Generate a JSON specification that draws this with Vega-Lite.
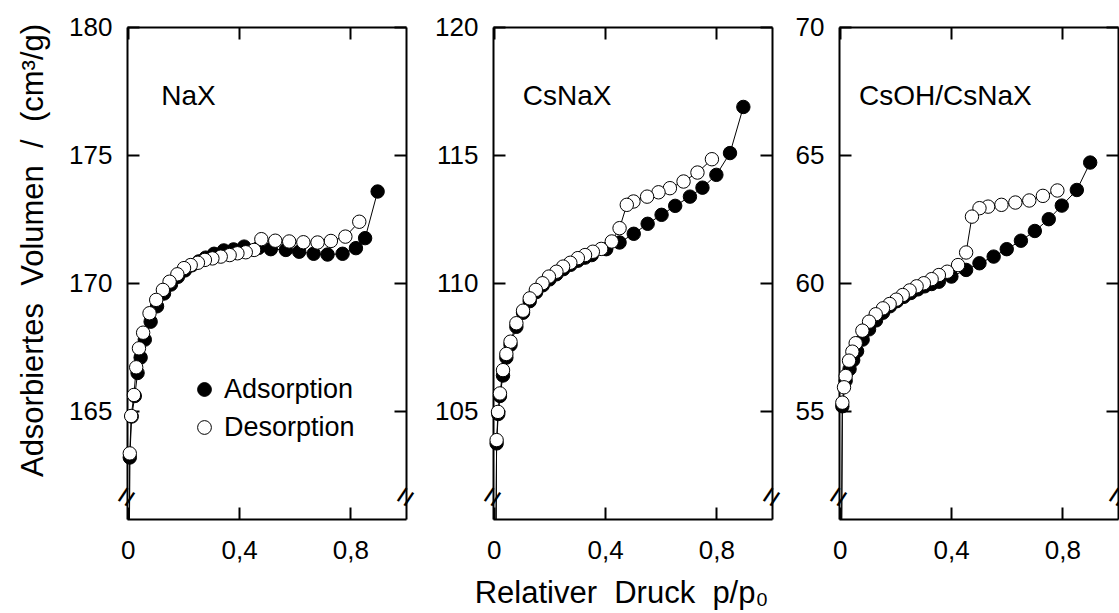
{
  "$schema": "https://vega.github.io/schema/vega-lite/v6.json",
  "padding": {"left": 17, "top": 14, "right": 0, "bottom": 2},
  "background": "white",
  "config": {
    "font": "Liberation Sans",
    "view": {"stroke": null},
    "axis": {
      "domainColor": "black", "domainWidth": 2, "tickColor": "black", "tickWidth": 2, "tickSize": -12,
      "grid": false, "labelFontSize": 26, "labelColor": "black", "labelFont": "Liberation Sans",
      "titleFontSize": 31, "titleFontWeight": "normal", "titleColor": "black", "titleFont": "Liberation Sans",
      "labelFlush": false, "labelOverlap": false
    }
  },
  "datasets": {
    "iso": [
      {"panel": "NaX", "series": "Adsorption", "x": 0.001, "y": 150},
      {"panel": "NaX", "series": "Adsorption", "x": 0.007, "y": 163.2},
      {"panel": "NaX", "series": "Adsorption", "x": 0.014, "y": 164.8},
      {"panel": "NaX", "series": "Adsorption", "x": 0.025, "y": 165.6},
      {"panel": "NaX", "series": "Adsorption", "x": 0.035, "y": 166.5},
      {"panel": "NaX", "series": "Adsorption", "x": 0.046, "y": 167.1},
      {"panel": "NaX", "series": "Adsorption", "x": 0.061, "y": 167.8},
      {"panel": "NaX", "series": "Adsorption", "x": 0.082, "y": 168.5},
      {"panel": "NaX", "series": "Adsorption", "x": 0.105, "y": 169.1},
      {"panel": "NaX", "series": "Adsorption", "x": 0.13, "y": 169.6},
      {"panel": "NaX", "series": "Adsorption", "x": 0.155, "y": 169.95},
      {"panel": "NaX", "series": "Adsorption", "x": 0.18, "y": 170.25},
      {"panel": "NaX", "series": "Adsorption", "x": 0.205, "y": 170.5},
      {"panel": "NaX", "series": "Adsorption", "x": 0.23, "y": 170.7},
      {"panel": "NaX", "series": "Adsorption", "x": 0.255, "y": 170.85},
      {"panel": "NaX", "series": "Adsorption", "x": 0.28, "y": 171.0},
      {"panel": "NaX", "series": "Adsorption", "x": 0.31, "y": 171.15},
      {"panel": "NaX", "series": "Adsorption", "x": 0.345, "y": 171.28},
      {"panel": "NaX", "series": "Adsorption", "x": 0.38, "y": 171.32},
      {"panel": "NaX", "series": "Adsorption", "x": 0.418, "y": 171.43},
      {"panel": "NaX", "series": "Adsorption", "x": 0.47, "y": 171.38},
      {"panel": "NaX", "series": "Adsorption", "x": 0.514, "y": 171.33},
      {"panel": "NaX", "series": "Adsorption", "x": 0.568, "y": 171.3},
      {"panel": "NaX", "series": "Adsorption", "x": 0.616, "y": 171.23},
      {"panel": "NaX", "series": "Adsorption", "x": 0.668, "y": 171.15},
      {"panel": "NaX", "series": "Adsorption", "x": 0.718, "y": 171.12},
      {"panel": "NaX", "series": "Adsorption", "x": 0.772, "y": 171.15},
      {"panel": "NaX", "series": "Adsorption", "x": 0.82, "y": 171.37},
      {"panel": "NaX", "series": "Adsorption", "x": 0.853, "y": 171.76},
      {"panel": "NaX", "series": "Adsorption", "x": 0.898, "y": 173.58},
      {"panel": "NaX", "series": "Desorption", "x": 0.832, "y": 172.4},
      {"panel": "NaX", "series": "Desorption", "x": 0.782, "y": 171.82},
      {"panel": "NaX", "series": "Desorption", "x": 0.73, "y": 171.65},
      {"panel": "NaX", "series": "Desorption", "x": 0.682, "y": 171.59},
      {"panel": "NaX", "series": "Desorption", "x": 0.631, "y": 171.6},
      {"panel": "NaX", "series": "Desorption", "x": 0.58, "y": 171.63},
      {"panel": "NaX", "series": "Desorption", "x": 0.53, "y": 171.66},
      {"panel": "NaX", "series": "Desorption", "x": 0.48, "y": 171.72},
      {"panel": "NaX", "series": "Desorption", "x": 0.454, "y": 171.3},
      {"panel": "NaX", "series": "Desorption", "x": 0.424, "y": 171.21},
      {"panel": "NaX", "series": "Desorption", "x": 0.394, "y": 171.17},
      {"panel": "NaX", "series": "Desorption", "x": 0.366, "y": 171.1},
      {"panel": "NaX", "series": "Desorption", "x": 0.334, "y": 171.04},
      {"panel": "NaX", "series": "Desorption", "x": 0.304, "y": 170.97},
      {"panel": "NaX", "series": "Desorption", "x": 0.277, "y": 170.91},
      {"panel": "NaX", "series": "Desorption", "x": 0.252, "y": 170.8},
      {"panel": "NaX", "series": "Desorption", "x": 0.226, "y": 170.71},
      {"panel": "NaX", "series": "Desorption", "x": 0.202, "y": 170.59},
      {"panel": "NaX", "series": "Desorption", "x": 0.178, "y": 170.35},
      {"panel": "NaX", "series": "Desorption", "x": 0.15, "y": 170.06},
      {"panel": "NaX", "series": "Desorption", "x": 0.126, "y": 169.74},
      {"panel": "NaX", "series": "Desorption", "x": 0.102, "y": 169.35},
      {"panel": "NaX", "series": "Desorption", "x": 0.078, "y": 168.83},
      {"panel": "NaX", "series": "Desorption", "x": 0.055, "y": 168.07},
      {"panel": "NaX", "series": "Desorption", "x": 0.04, "y": 167.46},
      {"panel": "NaX", "series": "Desorption", "x": 0.03, "y": 166.72},
      {"panel": "NaX", "series": "Desorption", "x": 0.022, "y": 165.64},
      {"panel": "NaX", "series": "Desorption", "x": 0.012, "y": 164.82},
      {"panel": "NaX", "series": "Desorption", "x": 0.007, "y": 163.36},
      {"panel": "NaX", "series": "Desorption", "x": 0.0015, "y": 150},

      {"panel": "CsNaX", "series": "Adsorption", "x": 0.001, "y": 90},
      {"panel": "CsNaX", "series": "Adsorption", "x": 0.01, "y": 103.75},
      {"panel": "CsNaX", "series": "Adsorption", "x": 0.016, "y": 104.9},
      {"panel": "CsNaX", "series": "Adsorption", "x": 0.022, "y": 105.6},
      {"panel": "CsNaX", "series": "Adsorption", "x": 0.033, "y": 106.4},
      {"panel": "CsNaX", "series": "Adsorption", "x": 0.045, "y": 107.1},
      {"panel": "CsNaX", "series": "Adsorption", "x": 0.06, "y": 107.6},
      {"panel": "CsNaX", "series": "Adsorption", "x": 0.081, "y": 108.3},
      {"panel": "CsNaX", "series": "Adsorption", "x": 0.105, "y": 108.85},
      {"panel": "CsNaX", "series": "Adsorption", "x": 0.129, "y": 109.3},
      {"panel": "CsNaX", "series": "Adsorption", "x": 0.152, "y": 109.65},
      {"panel": "CsNaX", "series": "Adsorption", "x": 0.176, "y": 109.92},
      {"panel": "CsNaX", "series": "Adsorption", "x": 0.2, "y": 110.15},
      {"panel": "CsNaX", "series": "Adsorption", "x": 0.225, "y": 110.35},
      {"panel": "CsNaX", "series": "Adsorption", "x": 0.25, "y": 110.55},
      {"panel": "CsNaX", "series": "Adsorption", "x": 0.276, "y": 110.72},
      {"panel": "CsNaX", "series": "Adsorption", "x": 0.302, "y": 110.88},
      {"panel": "CsNaX", "series": "Adsorption", "x": 0.328, "y": 111.0},
      {"panel": "CsNaX", "series": "Adsorption", "x": 0.352, "y": 111.1},
      {"panel": "CsNaX", "series": "Adsorption", "x": 0.404, "y": 111.33},
      {"panel": "CsNaX", "series": "Adsorption", "x": 0.452, "y": 111.59},
      {"panel": "CsNaX", "series": "Adsorption", "x": 0.503, "y": 111.93},
      {"panel": "CsNaX", "series": "Adsorption", "x": 0.553, "y": 112.32},
      {"panel": "CsNaX", "series": "Adsorption", "x": 0.603, "y": 112.67},
      {"panel": "CsNaX", "series": "Adsorption", "x": 0.652, "y": 113.02},
      {"panel": "CsNaX", "series": "Adsorption", "x": 0.705, "y": 113.38},
      {"panel": "CsNaX", "series": "Adsorption", "x": 0.75, "y": 113.73},
      {"panel": "CsNaX", "series": "Adsorption", "x": 0.8, "y": 114.23},
      {"panel": "CsNaX", "series": "Adsorption", "x": 0.849, "y": 115.08},
      {"panel": "CsNaX", "series": "Adsorption", "x": 0.897, "y": 116.88},
      {"panel": "CsNaX", "series": "Desorption", "x": 0.784, "y": 114.84},
      {"panel": "CsNaX", "series": "Desorption", "x": 0.732, "y": 114.32},
      {"panel": "CsNaX", "series": "Desorption", "x": 0.682, "y": 113.97},
      {"panel": "CsNaX", "series": "Desorption", "x": 0.633, "y": 113.71},
      {"panel": "CsNaX", "series": "Desorption", "x": 0.592, "y": 113.55},
      {"panel": "CsNaX", "series": "Desorption", "x": 0.551, "y": 113.38},
      {"panel": "CsNaX", "series": "Desorption", "x": 0.502, "y": 113.19},
      {"panel": "CsNaX", "series": "Desorption", "x": 0.478, "y": 113.06},
      {"panel": "CsNaX", "series": "Desorption", "x": 0.452, "y": 112.15},
      {"panel": "CsNaX", "series": "Desorption", "x": 0.424, "y": 111.63},
      {"panel": "CsNaX", "series": "Desorption", "x": 0.386, "y": 111.34},
      {"panel": "CsNaX", "series": "Desorption", "x": 0.356, "y": 111.23},
      {"panel": "CsNaX", "series": "Desorption", "x": 0.328, "y": 111.1},
      {"panel": "CsNaX", "series": "Desorption", "x": 0.302, "y": 110.98},
      {"panel": "CsNaX", "series": "Desorption", "x": 0.275, "y": 110.8},
      {"panel": "CsNaX", "series": "Desorption", "x": 0.249, "y": 110.65},
      {"panel": "CsNaX", "series": "Desorption", "x": 0.225, "y": 110.45},
      {"panel": "CsNaX", "series": "Desorption", "x": 0.198, "y": 110.26},
      {"panel": "CsNaX", "series": "Desorption", "x": 0.175, "y": 110.0},
      {"panel": "CsNaX", "series": "Desorption", "x": 0.151, "y": 109.74},
      {"panel": "CsNaX", "series": "Desorption", "x": 0.129, "y": 109.41},
      {"panel": "CsNaX", "series": "Desorption", "x": 0.105, "y": 108.93},
      {"panel": "CsNaX", "series": "Desorption", "x": 0.081, "y": 108.44},
      {"panel": "CsNaX", "series": "Desorption", "x": 0.06, "y": 107.72},
      {"panel": "CsNaX", "series": "Desorption", "x": 0.045, "y": 107.24},
      {"panel": "CsNaX", "series": "Desorption", "x": 0.033, "y": 106.61},
      {"panel": "CsNaX", "series": "Desorption", "x": 0.022, "y": 105.7},
      {"panel": "CsNaX", "series": "Desorption", "x": 0.015, "y": 104.98},
      {"panel": "CsNaX", "series": "Desorption", "x": 0.01, "y": 103.88},
      {"panel": "CsNaX", "series": "Desorption", "x": 0.0015, "y": 90},

      {"panel": "CsOH", "series": "Adsorption", "x": 0.001, "y": 40},
      {"panel": "CsOH", "series": "Adsorption", "x": 0.009, "y": 55.2},
      {"panel": "CsOH", "series": "Adsorption", "x": 0.021, "y": 56.2},
      {"panel": "CsOH", "series": "Adsorption", "x": 0.035, "y": 56.65},
      {"panel": "CsOH", "series": "Adsorption", "x": 0.048, "y": 57.0},
      {"panel": "CsOH", "series": "Adsorption", "x": 0.062, "y": 57.35},
      {"panel": "CsOH", "series": "Adsorption", "x": 0.082, "y": 57.8},
      {"panel": "CsOH", "series": "Adsorption", "x": 0.105, "y": 58.2},
      {"panel": "CsOH", "series": "Adsorption", "x": 0.13, "y": 58.55},
      {"panel": "CsOH", "series": "Adsorption", "x": 0.155, "y": 58.85},
      {"panel": "CsOH", "series": "Adsorption", "x": 0.18, "y": 59.1},
      {"panel": "CsOH", "series": "Adsorption", "x": 0.205, "y": 59.3},
      {"panel": "CsOH", "series": "Adsorption", "x": 0.23, "y": 59.47},
      {"panel": "CsOH", "series": "Adsorption", "x": 0.255, "y": 59.62},
      {"panel": "CsOH", "series": "Adsorption", "x": 0.28, "y": 59.76},
      {"panel": "CsOH", "series": "Adsorption", "x": 0.305, "y": 59.88},
      {"panel": "CsOH", "series": "Adsorption", "x": 0.33, "y": 59.97},
      {"panel": "CsOH", "series": "Adsorption", "x": 0.356, "y": 60.06},
      {"panel": "CsOH", "series": "Adsorption", "x": 0.401, "y": 60.26},
      {"panel": "CsOH", "series": "Adsorption", "x": 0.454, "y": 60.52},
      {"panel": "CsOH", "series": "Adsorption", "x": 0.502, "y": 60.78},
      {"panel": "CsOH", "series": "Adsorption", "x": 0.553, "y": 61.04},
      {"panel": "CsOH", "series": "Adsorption", "x": 0.6, "y": 61.33},
      {"panel": "CsOH", "series": "Adsorption", "x": 0.651, "y": 61.66},
      {"panel": "CsOH", "series": "Adsorption", "x": 0.701, "y": 62.04},
      {"panel": "CsOH", "series": "Adsorption", "x": 0.751, "y": 62.5},
      {"panel": "CsOH", "series": "Adsorption", "x": 0.798, "y": 63.03},
      {"panel": "CsOH", "series": "Adsorption", "x": 0.852, "y": 63.64},
      {"panel": "CsOH", "series": "Adsorption", "x": 0.9, "y": 64.71},
      {"panel": "CsOH", "series": "Desorption", "x": 0.782, "y": 63.62},
      {"panel": "CsOH", "series": "Desorption", "x": 0.73, "y": 63.41},
      {"panel": "CsOH", "series": "Desorption", "x": 0.681, "y": 63.23},
      {"panel": "CsOH", "series": "Desorption", "x": 0.631, "y": 63.15},
      {"panel": "CsOH", "series": "Desorption", "x": 0.581, "y": 63.06},
      {"panel": "CsOH", "series": "Desorption", "x": 0.533, "y": 62.99},
      {"panel": "CsOH", "series": "Desorption", "x": 0.502, "y": 62.93},
      {"panel": "CsOH", "series": "Desorption", "x": 0.475, "y": 62.6},
      {"panel": "CsOH", "series": "Desorption", "x": 0.454, "y": 61.2},
      {"panel": "CsOH", "series": "Desorption", "x": 0.425, "y": 60.71},
      {"panel": "CsOH", "series": "Desorption", "x": 0.386, "y": 60.45},
      {"panel": "CsOH", "series": "Desorption", "x": 0.356, "y": 60.32},
      {"panel": "CsOH", "series": "Desorption", "x": 0.33, "y": 60.16},
      {"panel": "CsOH", "series": "Desorption", "x": 0.302, "y": 60.0},
      {"panel": "CsOH", "series": "Desorption", "x": 0.276, "y": 59.88},
      {"panel": "CsOH", "series": "Desorption", "x": 0.251, "y": 59.72},
      {"panel": "CsOH", "series": "Desorption", "x": 0.226, "y": 59.54},
      {"panel": "CsOH", "series": "Desorption", "x": 0.203, "y": 59.36},
      {"panel": "CsOH", "series": "Desorption", "x": 0.179, "y": 59.19},
      {"panel": "CsOH", "series": "Desorption", "x": 0.155, "y": 59.02},
      {"panel": "CsOH", "series": "Desorption", "x": 0.129, "y": 58.79},
      {"panel": "CsOH", "series": "Desorption", "x": 0.105, "y": 58.5},
      {"panel": "CsOH", "series": "Desorption", "x": 0.081, "y": 58.15},
      {"panel": "CsOH", "series": "Desorption", "x": 0.057, "y": 57.66},
      {"panel": "CsOH", "series": "Desorption", "x": 0.045, "y": 57.33},
      {"panel": "CsOH", "series": "Desorption", "x": 0.033, "y": 56.98},
      {"panel": "CsOH", "series": "Desorption", "x": 0.021, "y": 56.38},
      {"panel": "CsOH", "series": "Desorption", "x": 0.015, "y": 55.94},
      {"panel": "CsOH", "series": "Desorption", "x": 0.009, "y": 55.34},
      {"panel": "CsOH", "series": "Desorption", "x": 0.0015, "y": 40}
    ]
  },
  "data": {"name": "iso"},
  "bounds": "flush",
  "spacing": 87,
  "resolve": {"scale": {"x": "independent", "y": "independent", "fill": "independent"}, "legend": {"fill": "independent"}},
  "hconcat": [
    {
      "width": 279, "height": 492,
      "transform": [{"filter": "datum.panel == 'NaX'"}],
      "resolve": {"axis": {"x": "independent", "y": "independent"}},
      "layer": [
        {
          "mark": {"type": "line", "color": "black", "strokeWidth": 1, "clip": true},
          "encoding": {
            "x": {"field": "x", "type": "quantitative", "scale": {"domain": [-0.003, 1.0], "nice": false, "zero": false},
                  "axis": {"orient": "bottom", "values": [0, 0.4, 0.8], "labelExpr": "datum.value == 0 ? '0' : replace(format(datum.value, '.1f'), '.', ',')", "title": null, "labelPadding": 30}},
            "y": {"field": "y", "type": "quantitative", "scale": {"domain": [160.8, 180], "nice": false, "zero": false},
                  "axis": {"orient": "left", "values": [165, 170, 175, 180], "title": "Adsorbiertes\u00a0\u00a0Volumen\u00a0\u00a0/\u00a0\u00a0(cm³/g)", "labelPadding": 27, "titlePadding": 19, "titleY": 223}},
            "detail": {"field": "series"}
          }
        },
        {
          "transform": [{"filter": "datum.y >= 160.8"}],
          "mark": {"type": "point", "filled": true, "stroke": "black", "strokeWidth": 1, "size": 180, "opacity": 1},
          "encoding": {
            "x": {"field": "x", "type": "quantitative", "axis": {"orient": "top", "values": [0, 0.4, 0.8], "labels": false, "title": null}},
            "y": {"field": "y", "type": "quantitative", "axis": {"orient": "right", "values": [165, 170, 175, 180], "labels": false, "title": null}},
            "fill": {"field": "series", "type": "nominal", "scale": {"domain": ["Adsorption", "Desorption"], "range": ["black", "white"]},
                     "legend": {"orient": "none", "legendX": 64, "legendY": 349, "title": null, "padding": 0, "labelFontSize": 27, "labelFont": "Liberation Sans", "labelColor": "black",
                                "symbolType": "circle", "symbolSize": 190, "symbolStrokeColor": "black", "symbolStrokeWidth": 1, "rowPadding": 10, "labelOffset": 6}}
          }
        },
        {
          "data": {"values": [{}]},
          "mark": {"type": "text", "fontSize": 28, "fontWeight": "normal", "align": "left", "baseline": "alphabetic", "fill": "black"},
          "encoding": {"x": {"datum": 0.12, "axis": null}, "y": {"datum": 176.96, "axis": null}, "text": {"value": "NaX"}}
        },
        {
          "data": {"values": [{}]},
          "mark": {"type": "text", "fontSize": 32, "angle": 304, "fill": "black", "align": "center", "baseline": "middle"},
          "encoding": {"x": {"datum": -0.003, "axis": null}, "y": {"datum": 161.65, "axis": null}, "text": {"value": "="}}
        },
        {
          "data": {"values": [{}]},
          "mark": {"type": "text", "fontSize": 32, "angle": 304, "fill": "black", "align": "center", "baseline": "middle"},
          "encoding": {"x": {"datum": 1.0, "axis": null}, "y": {"datum": 161.65, "axis": null}, "text": {"value": "="}}
        }
      ]
    },
    {
      "bounds": "flush",
      "spacing": 67,
      "resolve": {"scale": {"x": "independent", "y": "independent", "fill": "independent"}, "legend": {"fill": "independent"}},
      "hconcat": [
        {
          "width": 279, "height": 492,
          "transform": [{"filter": "datum.panel == 'CsNaX'"}],
          "resolve": {"axis": {"x": "independent", "y": "independent"}},
          "layer": [
            {
              "mark": {"type": "line", "color": "black", "strokeWidth": 1, "clip": true},
              "encoding": {
                "x": {"field": "x", "type": "quantitative", "scale": {"domain": [-0.003, 1.0], "nice": false, "zero": false},
                      "axis": {"orient": "bottom", "values": [0, 0.4, 0.8], "labelExpr": "datum.value == 0 ? '0' : replace(format(datum.value, '.1f'), '.', ',')", "title": "Relativer\u00a0\u00a0Druck\u00a0\u00a0p/p₀", "labelPadding": 30, "titlePadding": 15, "titleX": 128}},
                "y": {"field": "y", "type": "quantitative", "scale": {"domain": [100.8, 120], "nice": false, "zero": false},
                      "axis": {"orient": "left", "values": [105, 110, 115, 120], "title": null, "labelPadding": 27}},
                "detail": {"field": "series"}
              }
            },
            {
              "transform": [{"filter": "datum.y >= 100.8"}],
              "mark": {"type": "point", "filled": true, "stroke": "black", "strokeWidth": 1, "size": 180, "opacity": 1},
              "encoding": {
                "x": {"field": "x", "type": "quantitative", "axis": {"orient": "top", "values": [0, 0.4, 0.8], "labels": false, "title": null}},
                "y": {"field": "y", "type": "quantitative", "axis": {"orient": "right", "values": [105, 110, 115, 120], "labels": false, "title": null}},
                "fill": {"field": "series", "type": "nominal", "scale": {"domain": ["Adsorption", "Desorption"], "range": ["black", "white"]}, "legend": null}
              }
            },
            {
              "data": {"values": [{}]},
              "mark": {"type": "text", "fontSize": 28, "fontWeight": "normal", "align": "left", "baseline": "alphabetic", "fill": "black"},
              "encoding": {"x": {"datum": 0.104, "axis": null}, "y": {"datum": 116.96, "axis": null}, "text": {"value": "CsNaX"}}
            },
            {
              "data": {"values": [{}]},
              "mark": {"type": "text", "fontSize": 32, "angle": 304, "fill": "black", "align": "center", "baseline": "middle"},
              "encoding": {"x": {"datum": -0.003, "axis": null}, "y": {"datum": 101.65, "axis": null}, "text": {"value": "="}}
            },
            {
              "data": {"values": [{}]},
              "mark": {"type": "text", "fontSize": 32, "angle": 304, "fill": "black", "align": "center", "baseline": "middle"},
              "encoding": {"x": {"datum": 1.0, "axis": null}, "y": {"datum": 101.65, "axis": null}, "text": {"value": "="}}
            }
          ]
        },
        {
          "width": 279, "height": 492,
          "transform": [{"filter": "datum.panel == 'CsOH'"}],
          "resolve": {"axis": {"x": "independent", "y": "independent"}},
          "layer": [
            {
              "mark": {"type": "line", "color": "black", "strokeWidth": 1, "clip": true},
              "encoding": {
                "x": {"field": "x", "type": "quantitative", "scale": {"domain": [-0.003, 1.0], "nice": false, "zero": false},
                      "axis": {"orient": "bottom", "values": [0, 0.4, 0.8], "labelExpr": "datum.value == 0 ? '0' : replace(format(datum.value, '.1f'), '.', ',')", "title": null, "labelPadding": 30}},
                "y": {"field": "y", "type": "quantitative", "scale": {"domain": [50.8, 70], "nice": false, "zero": false},
                      "axis": {"orient": "left", "values": [55, 60, 65, 70], "title": null, "labelPadding": 27}},
                "detail": {"field": "series"}
              }
            },
            {
              "transform": [{"filter": "datum.y >= 50.8"}],
              "mark": {"type": "point", "filled": true, "stroke": "black", "strokeWidth": 1, "size": 180, "opacity": 1},
              "encoding": {
                "x": {"field": "x", "type": "quantitative", "axis": {"orient": "top", "values": [0, 0.4, 0.8], "labels": false, "title": null}},
                "y": {"field": "y", "type": "quantitative", "axis": {"orient": "right", "values": [55, 60, 65, 70], "labels": false, "title": null}},
                "fill": {"field": "series", "type": "nominal", "scale": {"domain": ["Adsorption", "Desorption"], "range": ["black", "white"]}, "legend": null}
              }
            },
            {
              "data": {"values": [{}]},
              "mark": {"type": "text", "fontSize": 28, "fontWeight": "normal", "align": "left", "baseline": "alphabetic", "fill": "black"},
              "encoding": {"x": {"datum": 0.069, "axis": null}, "y": {"datum": 66.96, "axis": null}, "text": {"value": "CsOH/CsNaX"}}
            },
            {
              "data": {"values": [{}]},
              "mark": {"type": "text", "fontSize": 32, "angle": 304, "fill": "black", "align": "center", "baseline": "middle"},
              "encoding": {"x": {"datum": -0.003, "axis": null}, "y": {"datum": 51.65, "axis": null}, "text": {"value": "="}}
            },
            {
              "data": {"values": [{}]},
              "mark": {"type": "text", "fontSize": 32, "angle": 304, "fill": "black", "align": "center", "baseline": "middle"},
              "encoding": {"x": {"datum": 1.0, "axis": null}, "y": {"datum": 51.65, "axis": null}, "text": {"value": "="}}
            }
          ]
        }
      ]
    }
  ]
}
